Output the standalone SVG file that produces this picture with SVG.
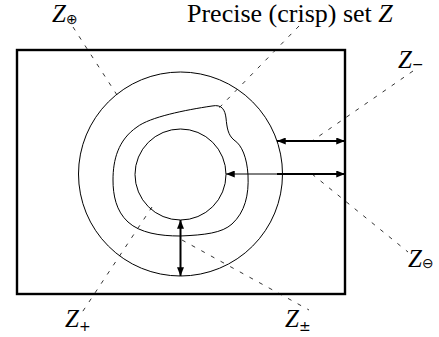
<svg xmlns="http://www.w3.org/2000/svg" width="439" height="337" viewBox="0 0 439 337">
<style>
.thin{fill:none;stroke:#000;stroke-width:1}
.dash{fill:none;stroke:#000;stroke-width:0.8;stroke-dasharray:4 7}
.thick{fill:none;stroke:#000;stroke-width:2}
.lab{font-family:"Liberation Serif",serif;font-size:25px;fill:#000}
.z{font-style:italic}
.sub{font-family:"DejaVu Sans",sans-serif;font-size:14px}
</style>
<defs>
<marker id="ah" viewBox="0 0 10 8" refX="10" refY="4" markerWidth="9" markerHeight="7" markerUnits="userSpaceOnUse" orient="auto-start-reverse">
<path d="M0,0 L10,4 L0,8 Z" fill="#000"/>
</marker>
</defs>
<g id="frame"><rect x="17" y="50" width="328" height="244" fill="none" stroke="#000" stroke-width="2.4"/></g>
<g id="outer-set"><circle cx="180.5" cy="174" r="102" class="thin"/></g>
<g id="crisp-set"><path class="thin" d="M137,127 C150,117 185,110 212,106 C222,104 225,110 226,118 C227,128 228,135 234,140 C242,145 247,158 248,175 C249,195 245,212 232,224 C222,233 205,235 180,236 C160,236 140,233 128,222 C116,211 113,195 113,180 C113,160 118,140 137,127 Z"/></g>
<g id="inner-set"><circle cx="180.5" cy="174.5" r="45.5" class="thin"/></g>
<g id="connectors">
<line class="dash" x1="73" y1="27" x2="117" y2="95"/>
<line class="dash" x1="299" y1="26" x2="219" y2="108"/>
<line class="dash" x1="413" y1="71" x2="312" y2="141"/>
<line class="dash" x1="312" y1="174" x2="408" y2="252"/>
<line class="dash" x1="152" y1="207" x2="81" y2="314"/>
<line class="dash" x1="182" y1="240" x2="309" y2="310"/>
<line class="thick" x1="180.5" y1="220" x2="180.5" y2="276" marker-start="url(#ah)" marker-end="url(#ah)"/>
<line class="thick" x1="277" y1="141" x2="345" y2="141" marker-start="url(#ah)" marker-end="url(#ah)"/>
<line class="thin" x1="226" y1="174" x2="277" y2="174" marker-start="url(#ah)"/>
<line class="thick" x1="277" y1="174" x2="345" y2="174" marker-end="url(#ah)"/>
</g>
<g id="label-zoplus"><text class="lab" x="52" y="22"><tspan class="z">Z</tspan><tspan class="sub" dy="2">⊕</tspan></text></g>
<g id="label-precise"><text class="lab" x="187" y="22" style="font-size:26px">Precise (crisp) set <tspan class="z">Z</tspan></text></g>
<g id="label-zminus"><text class="lab" x="398" y="68"><tspan class="z">Z</tspan><tspan class="sub" dy="1">−</tspan></text></g>
<g id="label-zominus"><text class="lab" x="408" y="267"><tspan class="z">Z</tspan><tspan class="sub" dy="1">⊖</tspan></text></g>
<g id="label-zplus"><text class="lab" x="65" y="327"><tspan class="z">Z</tspan><tspan class="sub" dy="4">+</tspan></text></g>
<g id="label-zpm"><text class="lab" x="285" y="327"><tspan class="z">Z</tspan><tspan class="sub" dy="4">±</tspan></text></g>
</svg>
